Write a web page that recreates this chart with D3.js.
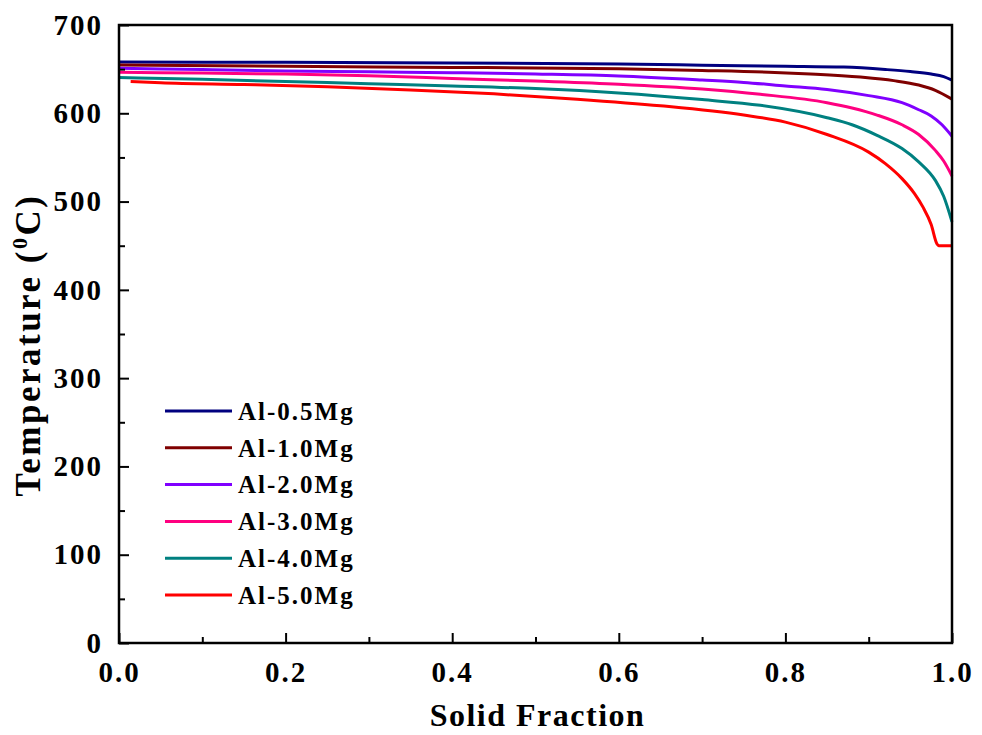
<!DOCTYPE html>
<html>
<head>
<meta charset="utf-8">
<script src="https://cdn.jsdelivr.net/npm/d3@7"></script>
<style>
  html, body { margin: 0; padding: 0; background: #fff; }
  svg { display: block; }
  text { font-family: "Liberation Serif", "Times New Roman", serif; font-weight: bold; fill: #000; }
</style>
</head>
<body>
<svg id="chart" width="982" height="735"></svg>
<script>
// ---------------- data ----------------
const seriesNames = ["Al-0.5Mg", "Al-1.0Mg", "Al-2.0Mg", "Al-3.0Mg", "Al-4.0Mg", "Al-5.0Mg"];
const seriesColors = ["#00007F", "#7F0000", "#8000FF", "#FF0080", "#008080", "#FF0000"];

// [solid fraction, temperature °C]
const alMg05 = [[0,658],[0.2,657.8],[0.4,657],[0.6,655.8],[0.7,654.5],[0.8,653.3],[0.87,652.3],[0.92,649.6],[0.95,647.3],[0.975,644.5],[0.99,641.5],[1.0,637.5]];
const alMg10 = [[0,654.7],[0.2,653.2],[0.4,652],[0.6,650.5],[0.7,648.5],[0.78,646.5],[0.83,644.5],[0.89,641],[0.93,637],[0.96,632],[0.98,626],[1.0,616]];
const alMg20 = [[0,651],[0.1,649.5],[0.2,648],[0.3,647],[0.4,646],[0.5,644.5],[0.6,642.3],[0.7,637.7],[0.75,635],[0.8,631],[0.85,627],[0.9,620],[0.94,612],[0.96,604],[0.975,597],[0.988,587],[1.0,574]];
const alMg30 = [[0,646.5],[0.1,645.5],[0.2,644.5],[0.3,642.5],[0.4,639.5],[0.5,636.5],[0.6,633],[0.7,627.5],[0.77,621.5],[0.85,612],[0.88,606],[0.91,598],[0.94,587],[0.96,576],[0.98,558],[0.99,546],[1.0,529]];
const alMg40 = [[0,640.5],[0.1,638.5],[0.2,636],[0.3,633.5],[0.4,631],[0.5,628],[0.6,623],[0.7,615.5],[0.77,609],[0.85,595],[0.88,587],[0.91,575],[0.94,560],[0.96,545],[0.98,524],[0.99,506],[1.0,477]];
const alMg50 = [[0.014,636],[0.05,634.5],[0.15,632.5],[0.25,630],[0.35,626.5],[0.45,622],[0.55,616],[0.65,608.5],[0.75,598],[0.8,590],[0.85,576],[0.9,556],[0.92,543],[0.94,526],[0.955,509],[0.965,494],[0.975,474],[0.982,452],[0.984,450],[1.0,450]];
const seriesData = [alMg05, alMg10, alMg20, alMg30, alMg40, alMg50];

const xMajorTicks = [0, 0.2, 0.4, 0.6, 0.8, 1.0];
const xMinorTicks = [0.1, 0.3, 0.5, 0.7, 0.9];
const yMajorTicks = [0, 100, 200, 300, 400, 500, 600, 700];
const yMinorTicks = [50, 150, 250, 350, 450, 550, 650];

const xTitle = "Solid Fraction";

// ---------------- layout ----------------
(function draw() {
  const svg = d3.select("#chart");
  const pL = 119, pR = 952, pT = 25, pB = 643;

  const x = d3.scaleLinear().domain([0, 1]).range([pL, pR]);
  const y = d3.scaleLinear().domain([0, 700]).range([pB, pT]);

  const line = d3.line()
    .x(d => x(d[0]))
    .y(d => y(d[1]))
    .curve(d3.curveMonotoneX);

  svg.append("g").selectAll("path")
    .data(seriesData)
    .join("path")
    .attr("d", line)
    .attr("fill", "none")
    .attr("stroke", (d, i) => seriesColors[i])
    .attr("stroke-width", 3);

  const tickFont = 29;
  const xAxis = svg.append("g").attr("transform", `translate(0,${pB})`)
    .call(d3.axisBottom(x).tickValues(xMajorTicks).tickFormat(d3.format(".1f")).tickSize(-10).tickPadding(18));
  const xMinor = svg.append("g").attr("transform", `translate(0,${pB})`)
    .call(d3.axisBottom(x).tickValues(xMinorTicks).tickFormat("").tickSize(-6));
  const yAxis = svg.append("g").attr("transform", `translate(${pL},0)`)
    .call(d3.axisLeft(y).tickValues(yMajorTicks).tickFormat(d3.format("d")).tickSize(-10).tickPadding(16));
  const yMinor = svg.append("g").attr("transform", `translate(${pL},0)`)
    .call(d3.axisLeft(y).tickValues(yMinorTicks).tickFormat("").tickSize(-6));

  [xAxis, xMinor, yAxis, yMinor].forEach(g => {
    g.select(".domain").remove();
    g.selectAll(".tick line").attr("stroke", "#000").attr("stroke-width", 2);
    g.selectAll(".tick text")
      .attr("font-family", "Liberation Serif, Times New Roman, serif")
      .attr("font-weight", "bold")
      .attr("font-size", tickFont)
      .style("letter-spacing", "2px")
      .attr("fill", "#000");
  });

  svg.append("rect")
    .attr("x", pL).attr("y", pT)
    .attr("width", pR - pL).attr("height", pB - pT)
    .attr("fill", "none").attr("stroke", "#000").attr("stroke-width", 2.5);

  svg.append("text")
    .attr("x", (pL + pR) / 2 + 2)
    .attr("y", 726)
    .attr("text-anchor", "middle")
    .attr("font-size", 32)
    .style("letter-spacing", "1.5px")
    .text(xTitle);

  const yt = svg.append("text")
    .attr("transform", "translate(40,345) rotate(-90)")
    .attr("text-anchor", "middle")
    .attr("font-size", 35)
    .style("letter-spacing", "2.5px");
  yt.append("tspan").text("Temperature (");
  yt.append("tspan").attr("font-size", 22).attr("dy", -13).text("0");
  yt.append("tspan").attr("dy", 13).text("C)");

  const legend = svg.append("g");
  seriesNames.forEach((name, i) => {
    const ly = 411 + i * 36.8;
    legend.append("line")
      .attr("x1", 165).attr("x2", 232)
      .attr("y1", ly).attr("y2", ly)
      .attr("stroke", seriesColors[i]).attr("stroke-width", 3);
    legend.append("text")
      .attr("x", 238).attr("y", ly)
      .attr("dy", "0.35em")
      .attr("font-size", 25)
      .style("letter-spacing", "2px")
      .text(name);
  });
})();
</script>
</body>
</html>
